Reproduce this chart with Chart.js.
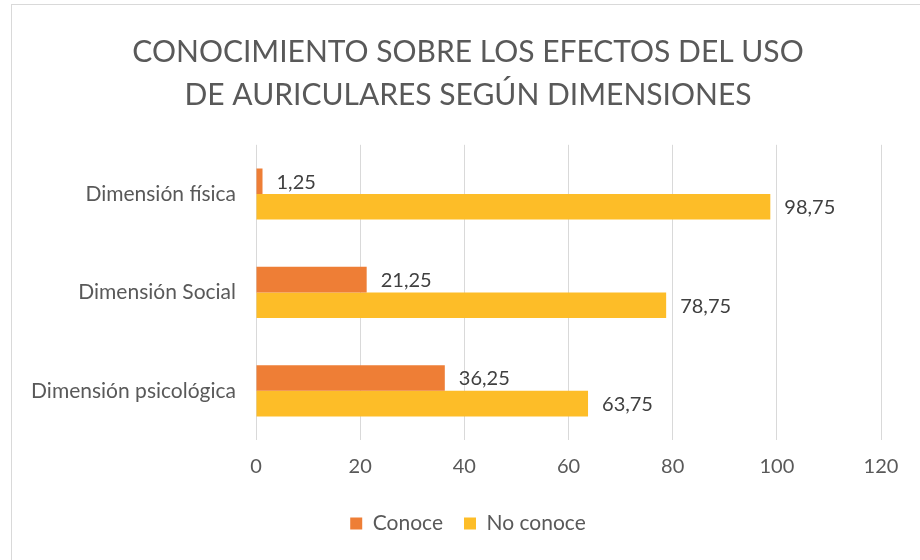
<!DOCTYPE html>
<html>
<head>
<meta charset="utf-8">
<script src="https://cdn.jsdelivr.net/npm/chart.js@4"></script>
<style>
  html, body { margin: 0; padding: 0; background: #fff; overflow: hidden; }
  #wrap { position: relative; width: 920px; height: 560px; }
  #frame { position: absolute; left: 11px; top: 4px; width: 1000px; height: 1000px; border: 1px solid #d9d9d9; pointer-events: none; }
</style>
</head>
<body>
<div id="wrap">
  <canvas id="myChart" width="920" height="560"></canvas>
  <div id="frame"></div>
</div>
<script>
    var categories = ['Dimensión física', 'Dimensión Social', 'Dimensión psicológica'];
    var conoce = [1.25, 21.25, 36.25];
    var noConoce = [98.75, 78.75, 63.75];
    var titleLines = ['CONOCIMIENTO SOBRE LOS EFECTOS DEL USO', 'DE AURICULARES SEGÚN DIMENSIONES'];

    var fontName = 'Lato, "Open Sans", sans-serif';

    // etiquetas de datos al final de cada barra
    var dataLabels = {
        id: 'dataLabels',
        afterDatasetsDraw: function (chart) {
            var ctx = chart.ctx;
            ctx.save();
            ctx.font = '20px ' + fontName;
            ctx.fillStyle = '#404040';
            ctx.textAlign = 'left';
            ctx.textBaseline = 'middle';
            chart.data.datasets.forEach(function (ds, i) {
                chart.getDatasetMeta(i).data.forEach(function (bar, j) {
                    var txt = ds.data[j].toFixed(2).replace('.', ',');
                    ctx.fillText(txt, bar.x + 14, bar.y + 1);
                });
            });
            ctx.restore();
        }
    };

    var ctx = document.getElementById('myChart').getContext('2d');
    var chart = new Chart(ctx, {
        type: 'bar',
        data: {
            labels: categories,
            datasets: [{
                    label: 'Conoce',
                    backgroundColor: '#EE7E36',
                    data: conoce,
                    categoryPercentage: 0.52,
                    barPercentage: 1
                },
                {
                    label: 'No conoce',
                    backgroundColor: '#FDBD28',
                    data: noConoce,
                    categoryPercentage: 0.52,
                    barPercentage: 1
                }
            ]
        },
        plugins: [dataLabels],
        options: {
            indexAxis: 'y',
            responsive: false,
            animation: false,
            layout: {
                padding: { left: 23, right: 7, top: 0, bottom: 16 }
            },
            plugins: {
                title: {
                    display: true,
                    text: titleLines,
                    color: '#595959',
                    font: { family: fontName, size: 30, weight: 'normal', lineHeight: 1.43 },
                    padding: { top: 31, bottom: 28 }
                },
                legend: {
                    position: 'bottom',
                    labels: {
                        color: '#595959',
                        font: { family: fontName, size: 21 },
                        boxWidth: 12,
                        boxHeight: 12,
                        padding: 21
                    }
                },
                tooltip: { enabled: false }
            },
            scales: {
                x: {
                    min: 0,
                    max: 120,
                    ticks: {
                        stepSize: 20,
                        color: '#595959',
                        font: { family: fontName, size: 20 },
                        padding: 15
                    },
                    grid: { color: '#d9d9d9', lineWidth: 1, drawTicks: false },
                    border: { display: false },
                    afterFit: function (scale) { scale.height = 52; }
                },
                y: {
                    ticks: {
                        color: '#595959',
                        font: { family: fontName, size: 21 },
                        padding: 12
                    },
                    grid: { display: false },
                    border: { display: false },
                    afterFit: function (scale) { scale.width = 233; }
                },
                // margen derecho vacío
                yRight: {
                    type: 'category',
                    position: 'right',
                    ticks: { display: false },
                    grid: { display: false },
                    border: { display: false },
                    afterFit: function (scale) { scale.width = 32; }
                }
            }
        }
    });
</script>
</body>
</html>
